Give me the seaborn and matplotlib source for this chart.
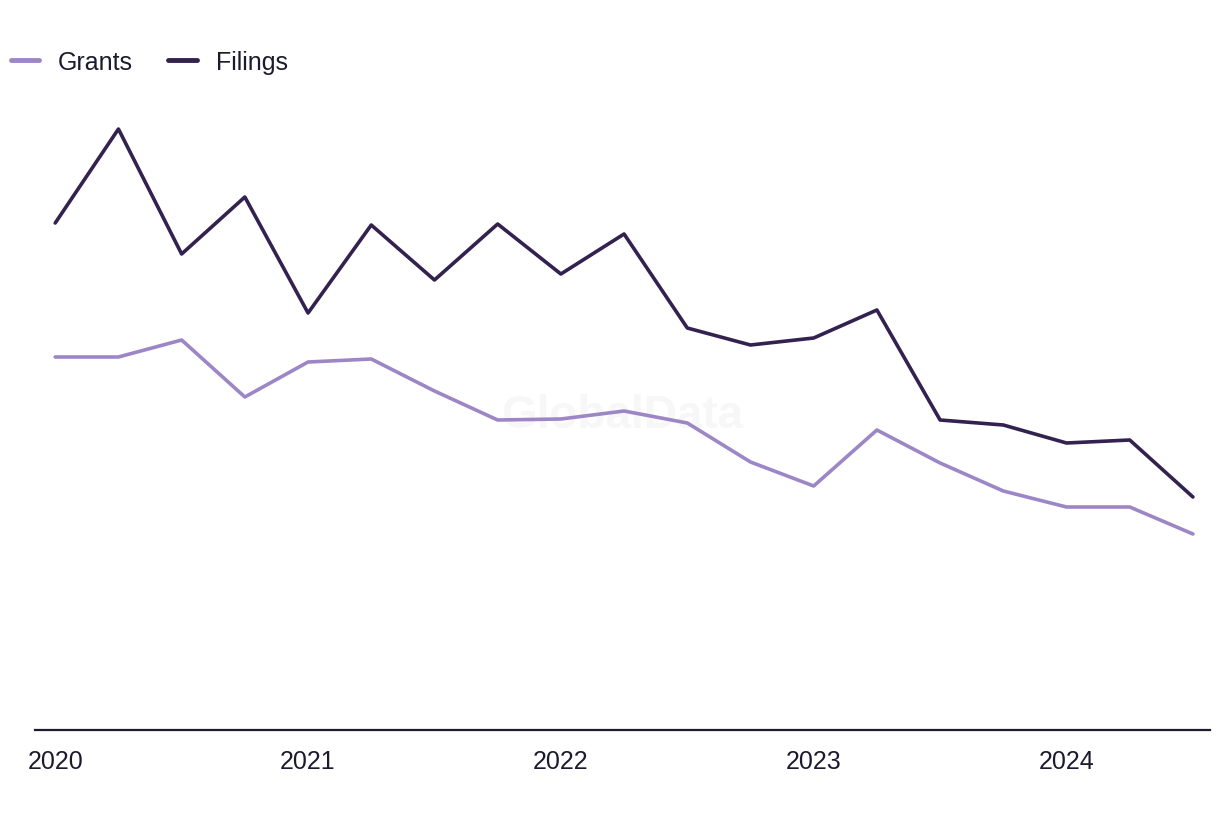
import pandas as pd
import numpy as np
import matplotlib.pyplot as plt
import seaborn as sns

# quarterly data, 2020 Q1 .. 2024 Q3
quarters = ['2020Q1', '2020Q2', '2020Q3', '2020Q4',
            '2021Q1', '2021Q2', '2021Q3', '2021Q4',
            '2022Q1', '2022Q2', '2022Q3', '2022Q4',
            '2023Q1', '2023Q2', '2023Q3', '2023Q4',
            '2024Q1', '2024Q2', '2024Q3']
grants = [373, 373, 390, 333, 368, 371, 339, 310, 311, 319,
          307, 268, 244, 300, 267, 239, 223, 223, 196]
filings = [507, 601, 476, 533, 417, 505, 450, 506, 456, 496,
           402, 385, 392, 420, 310, 305, 287, 290, 233]
year_labels = ['2020', '2021', '2022', '2023', '2024']

df = pd.DataFrame({'quarter': np.arange(len(quarters)),
                   'Grants': grants, 'Filings': filings})
long = df.melt(id_vars='quarter', var_name='series', value_name='value')

sns.set_style('white')
plt.rcParams['font.family'] = ['Liberation Sans', 'DejaVu Sans']
text_col = '#1c1b2e'

fig = plt.figure(figsize=(12.2, 8.2), dpi=100)
ax = fig.add_axes([35/1220, 89/820, 1175/1220, 630/820])

sns.lineplot(data=long, x='quarter', y='value', hue='series',
             palette={'Grants': '#9d86c6', 'Filings': '#33214f'},
             linewidth=2.6, ax=ax, legend=False)

ax.set_xlim(-0.32, 18.27)
ax.set_ylim(0, 630)
ax.set_xticks([0, 4, 8, 12, 16])
ax.set_xticklabels(year_labels, fontsize=18, color=text_col)
ax.tick_params(axis='x', length=0, pad=14)
ax.set_yticks([])
ax.set_xlabel('')
ax.set_ylabel('')
for s in ['top', 'right', 'left']:
    ax.spines[s].set_visible(False)
ax.spines['bottom'].set_color(text_col)
ax.spines['bottom'].set_linewidth(1.6)

# watermark
ax.text(0.5, 0.5, 'GlobalData', transform=ax.transAxes, ha='center', va='center',
        fontsize=33, fontweight='bold', color='#f7f7f7', zorder=0)

handles = [plt.Line2D([], [], color='#9d86c6', lw=3.5, solid_capstyle='round'),
           plt.Line2D([], [], color='#33214f', lw=3.5, solid_capstyle='round')]
fig.legend(handles, ['Grants', 'Filings'], loc='center left',
           bbox_to_anchor=(3/1220, 1 - 63/820), ncol=2, frameon=False,
           fontsize=18, handlelength=1.15, handletextpad=0.75, columnspacing=1.4,
           borderaxespad=0, borderpad=0.3, labelcolor=text_col)

fig.savefig('out.png', dpi=100)
